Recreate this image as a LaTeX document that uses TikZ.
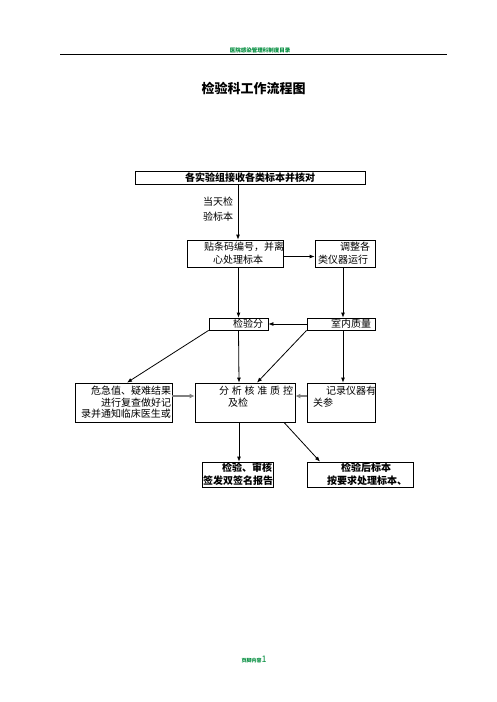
\documentclass[tikz,border=0pt]{standalone}
\usepackage{fontspec}
\setmainfont{Noto Sans CJK SC}
\usetikzlibrary{arrows.meta,calc}
\definecolor{hdrgreen}{RGB}{0,140,60}
\definecolor{garrow}{RGB}{128,128,128}
\begin{document}
\begin{tikzpicture}[x=1pt,y=-1pt,
  box/.style={draw=black, line width=0.8pt, inner xsep=1pt, inner ysep=0pt,
    font=\fontsize{10}{12.5}\selectfont},
  arr/.style={draw=black, line width=0.8pt, -{Latex[length=5pt,width=4pt]}},
  garr/.style={draw=garrow, line width=1.6pt, -{Latex[length=5pt,width=5pt]}},
  lbl/.style={inner sep=0pt, font=\fontsize{10}{15}\selectfont, align=left}]
\useasboundingbox (0,0) rectangle (496,702);

% header and footer
\node[inner sep=0pt, text=hdrgreen, font=\fontsize{5.5}{6}\selectfont\bfseries] (H) at (260,50.5) {医院感染管理科制度目录};
\draw[line width=1pt] (60,54.5) -- (447,54.5);
\node[inner sep=0pt, text=hdrgreen, anchor=base] (F) at (254,662) {{\fontsize{5}{6}\selectfont\bfseries 页脚内容}{\fontsize{9}{9}\selectfont 1}};

% title
\node[inner sep=0pt, font=\fontsize{13}{15}\selectfont\bfseries] (T) at (253.5,88) {检验科工作流程图};

% boxes
\node[box, minimum width=230pt, minimum height=13pt, font=\fontsize{10}{12}\selectfont\bfseries] (B1) at (250,177.5) {各实验组接收各类标本并核对};

\node[box, minimum width=96pt, minimum height=27pt, text width=94pt, align=left,
  font=\fontsize{10}{13}\selectfont] (B2) at (235,253.5)
  {\hspace*{16pt}贴条码编号，并离\\\hspace*{25pt}心处理标本};

\node[box, minimum width=60pt, minimum height=27pt, text width=58pt, align=left,
  font=\fontsize{10}{13}\selectfont] (B3) at (345,253.5)
  {\hspace*{24pt}调整各\\\hspace*{2pt}类仪器运行};

\node[box, minimum width=59pt, minimum height=12pt, text width=57pt, align=left] (B4) at (238.5,324)
  {\hspace*{23pt}检验分};

\node[box, minimum width=68pt, minimum height=12pt, text width=66pt, align=left] (B5) at (341,324)
  {\hspace*{23pt}室内质量};

\node[box, minimum width=97pt, minimum height=39pt, text width=95pt, align=right,
  font=\fontsize{10}{11.7}\selectfont] (B6) at (123.5,402.5)
  {危急值、疑难结果\\进行复查做好记\\录并通知临床医生或};

\node[box, minimum width=100pt, minimum height=39pt, text width=98pt, align=left,
  font=\fontsize{10}{12}\selectfont] (B7) at (245,402.5)
  {\hspace*{23pt}分\kern2.8pt析\kern2.8pt核\kern2.8pt准\kern2.8pt质\kern2.8pt控\\\hspace*{32pt}及检\\\mbox{}};

\node[box, minimum width=68pt, minimum height=39pt, text width=66pt, align=left,
  font=\fontsize{10}{12}\selectfont] (B8) at (341,402.5)
  {\hspace*{18pt}记录仪器有\\\hspace*{5pt}关参\\\mbox{}};

\node[box, minimum width=71pt, minimum height=25pt, text width=69pt, align=right,
  font=\fontsize{10}{13}\selectfont\bfseries] (B9) at (237.5,474.5)
  {检验、审核\\签发双签名报告};

\node[box, minimum width=106pt, minimum height=25pt, text width=104pt, align=left,
  font=\fontsize{10}{13}\selectfont\bfseries] (B10) at (360,474.5)
  {\hspace*{33pt}检验后标本\\\hspace*{19pt}按要求处理标本、};

% label on first arrow
\node[lbl, anchor=west] (L1) at (203,209.5) {当天检\\验标本};

% connectors
\draw[arr] ([xshift=-12pt]B1.south) -- ([xshift=3pt]B2.north);
\draw[arr] ($(B2.east)+(0,3)$) -- ($(B3.west)+(0,3)$);
\draw[arr] ([xshift=3.5pt]B2.south) -- (B4.north);
\draw[arr] ([xshift=-2pt]B3.south) -- ([xshift=2pt]B5.north);
\draw[arr] (B5.west) -- (B4.east);
\draw[arr] (B4.south) -- ([xshift=-6pt]B7.north);
\draw[arr] (B4.south west) -- ([xshift=3.5pt]B6.north);
\draw[arr] (B5.south west) -- ([xshift=12pt]B7.north);
\draw[arr] ([xshift=2pt]B5.south) -- ([xshift=2pt]B8.north);
\draw[garr] ($(B6.east)+(0,-6.5)$) -- ($(B7.west)+(0,-6.5)$);
\draw[garr] ($(B8.west)+(0,-6.5)$) -- ($(B7.east)+(0,-6.5)$);
\draw[arr] ([xshift=-6pt]B7.south) -- ([xshift=1.5pt]B9.north);
\draw[arr] ([xshift=39pt]B7.south) -- ([xshift=-40pt]B10.north);
\end{tikzpicture}
\end{document}
